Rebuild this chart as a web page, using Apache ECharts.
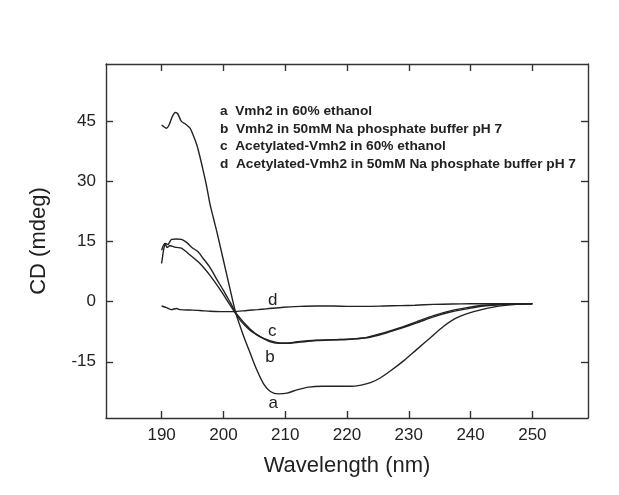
<!DOCTYPE html>
<html>
<head>
<meta charset="utf-8">
<script src="https://cdn.jsdelivr.net/npm/echarts@6/dist/echarts.min.js"></script>
<style>html,body{margin:0;padding:0;background:#fff}#c{width:619px;height:495px}</style>
</head>
<body>
<div id="c"></div>
<script>
var xTicks = [190, 200, 210, 220, 230, 240, 250];
var yTicks = [-15, 0, 15, 30, 45];

var legendLines = [
  'a  Vmh2 in 60% ethanol',
  'b  Vmh2 in 50mM Na phosphate buffer pH 7',
  'c  Acetylated-Vmh2 in 60% ethanol',
  'd  Acetylated-Vmh2 in 50mM Na phosphate buffer pH 7'
];

var waveA = [190,190.8,191.2,191.7,192.2,192.6,193.2,193.9,194.6,195.1,195.7,196.2,196.7,197.3,197.8,198.4,199,200,201,202,203.2,204.3,205.4,206.5,207.6,208.9,210.3,211.9,213.8,216,218,220.5,222.3,223.8,225.3,227,229.2,231.3,233.5,235.6,237.8,240.5,244.3,247.5,250];
var valA  = [44.0,43.2,44.0,46.0,47.1,46.8,44.9,44.2,43.2,41.5,39.0,36.1,32.8,28.6,24.5,20.7,17.0,10.3,3.6,-2.8,-8.3,-12.7,-17.0,-20.5,-22.4,-23.0,-22.8,-22.0,-21.3,-21.1,-21.1,-21.1,-20.8,-20.2,-19.1,-17.3,-14.7,-11.9,-9.0,-6.2,-4.0,-2.5,-1.2,-0.7,-0.6];

var waveB = [190,190.5,190.9,191.3,192.4,193.2,194.6,196.2,197.8,199.5,201.1,202.7,204.3,206,207.6,209.2,210.5,212.4,215,218,221,223.2,225.9,228.6,231.3,234,236.7,239.4,242.1,246.4,250];
var valB  = [12.8,14.5,13.5,13.9,13.5,13.3,11.6,9.5,6.6,2.9,-0.9,-4.6,-7.1,-8.8,-10.0,-10.4,-10.4,-10.1,-9.7,-9.5,-9.3,-9.0,-8.0,-6.7,-5.3,-3.8,-2.6,-1.8,-1.1,-0.6,-0.5];

var waveC = [190,190.4,190.7,191,191.6,192.4,193.2,194.1,194.9,195.9,196.7,197.8,198.9,200,201.1,202.2,204.3,206,207.6,209.2,210.5,212.4,215,218,221,223.2,225.9,228.6,231.3,234,236.7,239.4,242.1,246.4,250];
var valC  = [9.5,13.5,14.5,14.2,15.5,15.6,15.5,14.7,13.5,12.4,10.8,8.6,5.6,2.8,-0.2,-3.2,-6.8,-8.8,-9.8,-10.3,-10.3,-9.9,-9.6,-9.5,-9.3,-8.9,-7.8,-6.5,-5.0,-3.5,-2.3,-1.5,-0.9,-0.6,-0.5];

var waveD = [190,190.8,191.6,192.4,193,194.6,196.2,197.8,199.5,201.6,203.8,205.5,207,209.7,212.4,215,217.8,220.5,223.2,226,228.6,231,234,237,240,245,250];
var valD  = [-1.1,-1.5,-2.0,-1.7,-2.0,-2.1,-2.2,-2.4,-2.5,-2.5,-2.2,-2.0,-1.8,-1.4,-1.2,-1.1,-1.1,-1.2,-1.2,-1.1,-1.0,-0.9,-0.7,-0.6,-0.55,-0.5,-0.5];

var curveNames = ['a', 'b', 'c', 'd'];
var labelWave = [208.05, 207.55, 207.9, 208.0];
var labelVal  = [-25.3, -13.8, -7.35, 0.37];

function pairs(xs, ys) { return xs.map(function (x, i) { return [x, ys[i]]; }); }

var FONT = '"Liberation Sans", Arial, sans-serif';
var AX = '#333';
var chart = echarts.init(document.getElementById('c'), null, {renderer: 'canvas'});

var waves = [waveA, waveB, waveC, waveD];
var vals = [valA, valB, valC, valD];

var series = curveNames.map(function (n, i) {
  return {
    type: 'line', name: n, data: pairs(waves[i], vals[i]),
    showSymbol: false, smooth: 0.25,
    lineStyle: {color: '#222', width: 1.4},
    silent: true,
    markPoint: {
      symbol: 'circle', symbolSize: 0,
      data: [{coord: [labelWave[i], labelVal[i]], value: n}],
      label: {show: true, position: 'inside', formatter: n, color: '#222', fontSize: 17, fontFamily: FONT}
    }
  };
});

var tickCommon = {inside: true, length: 7, lineStyle: {color: AX, width: 1.4}};
var lineCommon = {show: true, onZero: false, lineStyle: {color: AX, width: 1.4}};

chart.setOption({
  backgroundColor: '#fff',
  animation: false,
  grid: {left: 106, right: 31, top: 64, bottom: 77},
  xAxis: [{
    type: 'value', min: 181, max: 259, position: 'bottom',
    name: 'Wavelength (nm)', nameLocation: 'middle', nameGap: 37,
    nameTextStyle: {fontSize: 22, color: '#222', fontFamily: FONT},
    axisLine: lineCommon,
    axisTick: Object.assign({customValues: xTicks}, tickCommon),
    axisLabel: {customValues: xTicks, fontSize: 17, color: '#222', margin: 9, fontFamily: FONT},
    splitLine: {show: false}
  }, {
    type: 'value', min: 181, max: 259, position: 'top',
    axisLine: lineCommon,
    axisTick: Object.assign({customValues: xTicks}, tickCommon),
    axisLabel: {show: false}, splitLine: {show: false}
  }],
  yAxis: [{
    type: 'value', min: -29, max: 59.2, position: 'left',
    name: 'CD (mdeg)', nameLocation: 'middle', nameGap: 56,
    nameTextStyle: {fontSize: 22, color: '#222', fontFamily: FONT},
    axisLine: lineCommon,
    axisTick: Object.assign({customValues: yTicks}, tickCommon),
    axisLabel: {customValues: yTicks, fontSize: 17, color: '#222', margin: 10, fontFamily: FONT},
    splitLine: {show: false}
  }, {
    type: 'value', min: -29, max: 59.2, position: 'right',
    axisLine: lineCommon,
    axisTick: Object.assign({customValues: yTicks}, tickCommon),
    axisLabel: {show: false}, splitLine: {show: false}
  }],
  graphic: legendLines.map(function (t, i) {
    return {
      type: 'text', left: 220, top: 104 + i * 17.8,
      style: {text: t, fontSize: 13.7, fontWeight: 'bold', fill: '#222', fontFamily: FONT}
    };
  }),
  series: series
});
</script>
</body>
</html>
